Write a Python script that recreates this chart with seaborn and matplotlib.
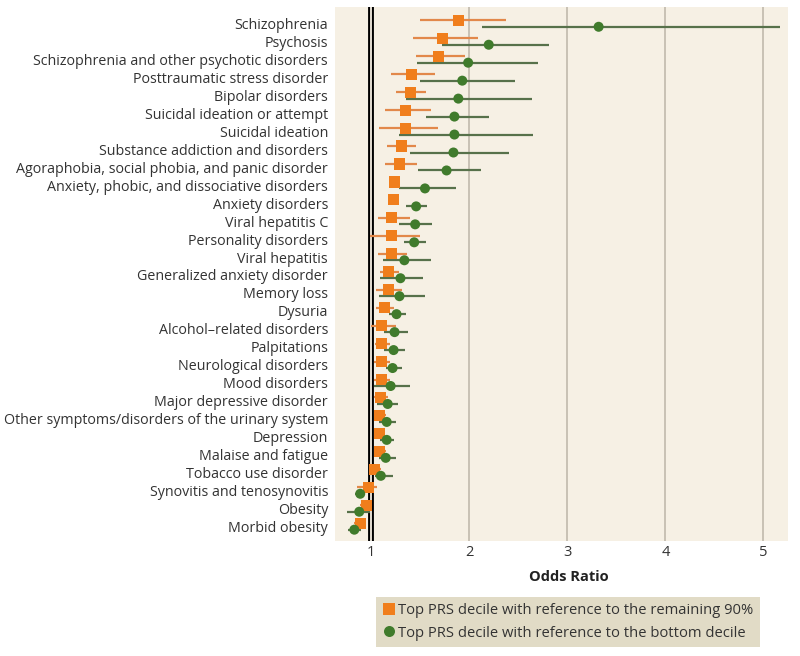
import matplotlib
matplotlib.use("Agg")
import matplotlib.pyplot as plt
import seaborn as sns
import pandas as pd
import numpy as np

# ── Data ──────────────────────────────────────────────────────────────────────
conditions = [
    "Schizophrenia", "Psychosis", "Schizophrenia and other psychotic disorders",
    "Posttraumatic stress disorder", "Bipolar disorders", "Suicidal ideation or attempt",
    "Suicidal ideation", "Substance addiction and disorders",
    "Agoraphobia, social phobia, and panic disorder",
    "Anxiety, phobic, and dissociative disorders", "Anxiety disorders",
    "Viral hepatitis C", "Personality disorders", "Viral hepatitis",
    "Generalized anxiety disorder", "Memory loss", "Dysuria",
    "Alcohol\u2013related disorders", "Palpitations", "Neurological disorders",
    "Mood disorders", "Major depressive disorder",
    "Other symptoms/disorders of the urinary system", "Depression",
    "Malaise and fatigue", "Tobacco use disorder", "Synovitis and tenosynovitis",
    "Obesity", "Morbid obesity",
]

# top decile vs remaining 90%
or_rest = [1.89, 1.73, 1.69, 1.41, 1.40, 1.35, 1.35, 1.31, 1.29, 1.24, 1.23, 1.21, 1.21,
           1.21, 1.18, 1.18, 1.14, 1.11, 1.11, 1.11, 1.11, 1.10, 1.09, 1.09, 1.09, 1.04,
           0.97, 0.95, 0.89]
lo_rest = [1.50, 1.43, 1.46, 1.20, 1.25, 1.14, 1.08, 1.16, 1.14, 1.18, 1.17, 1.07, 0.99,
           1.07, 1.09, 1.05, 1.05, 1.00, 1.04, 1.03, 1.03, 1.03, 1.03, 1.03, 1.03, 1.00,
           0.86, 0.89, 0.83]
hi_rest = [2.38, 2.09, 1.96, 1.65, 1.56, 1.61, 1.68, 1.46, 1.47, 1.30, 1.29, 1.40, 1.50,
           1.37, 1.29, 1.32, 1.23, 1.25, 1.19, 1.19, 1.19, 1.17, 1.15, 1.14, 1.15, 1.10,
           1.06, 1.00, 0.94]

# top decile vs bottom decile
or_bottom = [3.32, 2.20, 1.99, 1.93, 1.89, 1.85, 1.85, 1.84, 1.77, 1.55, 1.46, 1.45, 1.44,
             1.34, 1.30, 1.29, 1.26, 1.24, 1.23, 1.22, 1.20, 1.17, 1.16, 1.16, 1.15, 1.10,
             0.89, 0.88, 0.83]
lo_bottom = [2.13, 1.72, 1.47, 1.50, 1.36, 1.56, 1.29, 1.40, 1.48, 1.29, 1.36, 1.29, 1.34,
             1.12, 1.09, 1.08, 1.18, 1.13, 1.13, 1.15, 1.03, 1.06, 1.08, 1.09, 1.08, 1.04,
             0.84, 0.76, 0.77]
hi_bottom = [5.17, 2.81, 2.70, 2.47, 2.64, 2.20, 2.65, 2.41, 2.12, 1.87, 1.57, 1.62, 1.56,
             1.61, 1.53, 1.55, 1.36, 1.38, 1.35, 1.32, 1.40, 1.28, 1.25, 1.23, 1.25, 1.22,
             0.94, 0.99, 0.90]

lbl_rest = "Top PRS decile with reference to the remaining 90%"
lbl_bottom = "Top PRS decile with reference to the bottom decile"

BG = "#f6f0e4"
ORANGE = "#f07e1c"
GREEN = "#407b2c"
ORANGE_CI = "#e2884a"
GREEN_CI = "#57714a"
TXT = "#333333"

# ── Long-form table ───────────────────────────────────────────────────────────
rows = np.arange(len(conditions))
df = pd.concat([
    pd.DataFrame({"row": rows - 0.18, "or": or_rest, "lo": lo_rest, "hi": hi_rest,
                  "group": lbl_rest}),
    pd.DataFrame({"row": rows + 0.18, "or": or_bottom, "lo": lo_bottom, "hi": hi_bottom,
                  "group": lbl_bottom}),
], ignore_index=True)

# ── Plot ──────────────────────────────────────────────────────────────────────
sns.set_theme(style="white")
plt.rcParams["font.family"] = ["Open Sans", "DejaVu Sans"]

fig = plt.figure(figsize=(8, 6.56), dpi=100)
ax = fig.add_axes([0.41875, 0.1753, 0.56625, 0.814])
ax.set_facecolor(BG)

for x in [2, 3, 4, 5]:
    ax.axvline(x, color="#bcb4a7", lw=1.1, zorder=0)
ax.axvline(1, color="black", lw=4.2, zorder=1)
ax.axvline(1, color=BG, lw=1.3, zorder=1)

ci_colors = {lbl_rest: ORANGE_CI, lbl_bottom: GREEN_CI}
for grp, sub in df.groupby("group"):
    ax.hlines(sub["row"], sub["lo"], sub["hi"], color=ci_colors[grp], lw=1.6, zorder=2)

sns.scatterplot(data=df, x="or", y="row", hue="group", style="group", size="group",
                hue_order=[lbl_rest, lbl_bottom], style_order=[lbl_rest, lbl_bottom],
                size_order=[lbl_rest, lbl_bottom],
                sizes={lbl_rest: 64, lbl_bottom: 52},
                palette=[ORANGE, GREEN], markers=["s", "o"],
                linewidth=0, zorder=3, ax=ax)

ax.set_xlim(0.633, 5.25)
ax.set_ylim(len(conditions) - 1 + 0.81, -0.92)
ax.set_yticks(rows)
ax.set_yticklabels(conditions)
ax.set_xticks([1, 2, 3, 4, 5])
ax.tick_params(axis="y", length=0, pad=5, labelsize=10.3, labelcolor=TXT)
ax.tick_params(axis="x", length=0, pad=3, labelsize=10.5, labelcolor=TXT)
ax.set_ylabel("")
ax.set_xlabel("Odds Ratio", fontsize=10.5, fontweight="bold", color="#222222")
ax.xaxis.set_label_coords(0.517, -0.055)
for s in ax.spines.values():
    s.set_visible(False)

handles, labels = ax.get_legend_handles_labels()
ax.get_legend().remove()
leg = fig.legend(handles, labels, loc="center", bbox_to_anchor=(0.71, 0.052),
                 frameon=True, fancybox=False, facecolor="#e1dbc6", edgecolor="none",
                 framealpha=1, fontsize=10.6, handletextpad=0.2, handlelength=0.9,
                 borderpad=0.45, labelspacing=0.5, labelcolor=TXT, markerscale=1.1)

fig.savefig("out.png", dpi=100, facecolor="white")
